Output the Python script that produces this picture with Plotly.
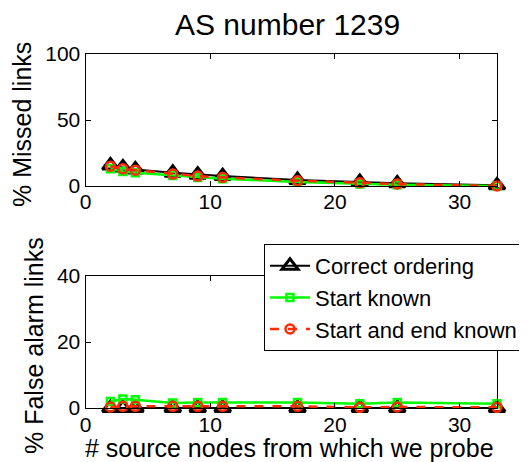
import plotly.graph_objects as go

# ---- data ----
sources = [2, 3, 4, 7, 9, 11, 17, 22, 25, 33]

missed_correct = [15.5, 14, 12.5, 10, 8.5, 7.5, 4.5, 3, 2, 0.5]
missed_start = [13, 11, 10, 8, 6.5, 5.5, 3, 1.5, 1, 0]
missed_startend = [15, 13, 12, 9, 7.5, 6.5, 4, 2.5, 1.5, 0]

false_correct = [0, 0, 0, 0, 0, 0, 0, 0, 0, 0]
false_start = [2.0, 2.7, 2.5, 1.5, 1.7, 1.7, 1.7, 1.3, 1.7, 1.3]
false_startend = [0.3, 0.5, 0.5, 0.5, 0.5, 0.5, 0.5, 0.2, 0.3, 0.2]

names = ["Correct ordering", "Start known", "Start and end known"]
x_ticks = [0, 10, 20, 30]
y1_ticks = [0, 50, 100]
y2_ticks = [0, 20, 40]

title_text = "AS number 1239"
y1_label = "% Missed links"
y2_label = "% False alarm links"
x_label = "# source nodes from which we probe"

# page body has an 8px margin: the figure is drawn 8px smaller and offset
OFF = 8
W, H = 527 - OFF, 462 - OFF
FONT = "Liberation Sans, Arial, Helvetica, sans-serif"
RED = "#ff2a00"
GREEN = "#00ff00"

styles = [
    dict(line=dict(color="black", width=2),
         marker=dict(symbol="triangle-up-open", size=14, color="black", line=dict(width=3))),
    dict(line=dict(color=GREEN, width=2.5),
         marker=dict(symbol="square-open", size=7, color=GREEN, line=dict(width=2.5))),
    dict(line=dict(color=RED, width=2.5, dash="dash"),
         marker=dict(symbol="circle-open", size=9, color=RED, line=dict(width=2.5))),
]

fig = go.Figure()
top_series = [missed_correct, missed_start, missed_startend]
bot_series = [false_correct, false_start, false_startend]
for i, (nm, ys) in enumerate(zip(names, top_series)):
    fig.add_trace(go.Scatter(x=sources, y=ys, mode="lines+markers", name=nm,
                             showlegend=False, xaxis="x", yaxis="y", cliponaxis=False,
                             **styles[i]))
for i, (nm, ys) in enumerate(zip(names, bot_series)):
    fig.add_trace(go.Scatter(x=sources, y=ys, mode="lines+markers", name=nm,
                             showlegend=True, xaxis="x2", yaxis="y2", cliponaxis=False,
                             **styles[i]))

def px_x(p):
    return (p - OFF) / W

def px_y(p):
    return 1 - (p - OFF) / H

axis_common = dict(showline=True, linecolor="black", linewidth=1, mirror="ticks",
                   ticks="inside", ticklen=5, tickcolor="black", showgrid=False,
                   zeroline=False, automargin=False,
                   tickfont=dict(family=FONT, size=21, color="black"))

fig.update_layout(
    width=W, height=H,
    margin=dict(l=0, r=0, t=0, b=0, autoexpand=False),
    paper_bgcolor="white", plot_bgcolor="white",
    font=dict(family=FONT, color="black"),
    xaxis=dict(domain=[px_x(85.5), px_x(497)], range=[0, 33], tickvals=x_ticks,
               anchor="y", ticklabelstandoff=-3, **axis_common),
    yaxis=dict(domain=[px_y(186), px_y(54)], range=[0, 100], tickvals=y1_ticks,
               anchor="x", **axis_common),
    xaxis2=dict(domain=[px_x(85.5), px_x(497)], range=[0, 33], tickvals=x_ticks,
                anchor="y2", ticklabelstandoff=-2, **axis_common),
    yaxis2=dict(domain=[px_y(408), px_y(276)], range=[0, 40], tickvals=y2_ticks,
                anchor="x2", **axis_common),
    legend=dict(x=px_x(264), y=px_y(244), xanchor="left", yanchor="top",
                bgcolor="white", bordercolor="black", borderwidth=1,
                font=dict(family=FONT, size=22, color="black"),
                itemwidth=40, tracegroupgap=0),
    showlegend=True,
    annotations=[
        dict(text=title_text, x=px_x(287), y=px_y(24), xref="paper", yref="paper",
             showarrow=False, xanchor="center", yanchor="middle",
             font=dict(family=FONT, size=30, color="black")),
        dict(text=y1_label, x=px_x(22), y=px_y(125), xref="paper", yref="paper",
             showarrow=False, xanchor="center", yanchor="middle", textangle=-90,
             font=dict(family=FONT, size=25, color="black")),
        dict(text=y2_label, x=px_x(34), y=px_y(346), xref="paper", yref="paper",
             showarrow=False, xanchor="center", yanchor="middle", textangle=-90,
             font=dict(family=FONT, size=25, color="black")),
        dict(text=x_label, x=px_x(289), y=px_y(448), xref="paper", yref="paper",
             showarrow=False, xanchor="center", yanchor="middle",
             font=dict(family=FONT, size=25, color="black")),
    ],
)

fig.write_html("out.html")
